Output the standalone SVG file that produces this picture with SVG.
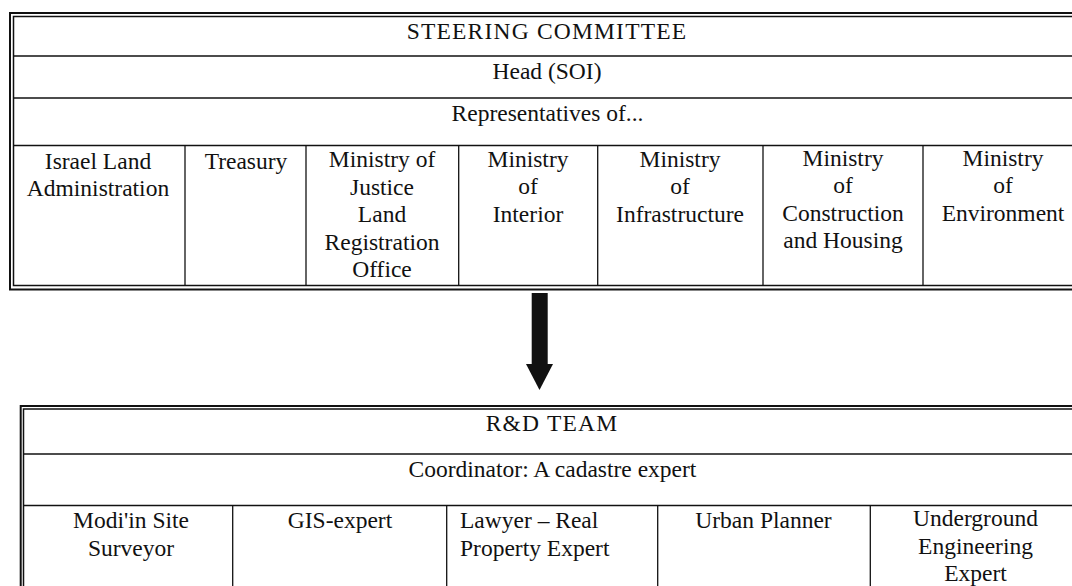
<svg xmlns="http://www.w3.org/2000/svg" width="1072" height="586" viewBox="0 0 1072 586">
<style>
text{font-family:"Liberation Serif","Times New Roman",serif;font-size:23.5px;fill:#111;text-anchor:middle}
.l{text-anchor:start}
.caps{letter-spacing:1.2px}
.outer{fill:none;stroke:#111;stroke-width:2}
.inner{fill:none;stroke:#111;stroke-width:1.5}
.grid{stroke:#111;stroke-width:1.3;fill:none}
</style>
<rect width="1072" height="586" fill="#fff"/>
<g id="steering-frame">
<rect class="outer" x="10" y="13" width="1078" height="276.5"/>
<rect class="inner" x="13.5" y="16.5" width="1071" height="269"/>
<line class="grid" x1="13.5" y1="56" x2="1085" y2="56"/>
<line class="grid" x1="13.5" y1="98" x2="1085" y2="98"/>
<line class="grid" x1="13.5" y1="145.5" x2="1085" y2="145.5"/>
<line class="grid" x1="185" y1="145.5" x2="185" y2="285.5"/>
<line class="grid" x1="306" y1="145.5" x2="306" y2="285.5"/>
<line class="grid" x1="458.7" y1="145.5" x2="458.7" y2="285.5"/>
<line class="grid" x1="597.7" y1="145.5" x2="597.7" y2="285.5"/>
<line class="grid" x1="763" y1="145.5" x2="763" y2="285.5"/>
<line class="grid" x1="923" y1="145.5" x2="923" y2="285.5"/>
</g>
<g id="steering-title"><text class="caps" x="547" y="38.5">STEERING COMMITTEE</text></g>
<g id="head-soi"><text x="547" y="79">Head (SOI)</text></g>
<g id="representatives"><text x="547.5" y="121">Representatives of...</text></g>
<g id="israel-land"><text x="98" y="168.5">Israel Land</text><text x="98" y="196">Administration</text></g>
<g id="treasury"><text x="246" y="168.5">Treasury</text></g>
<g id="justice"><text x="382" y="167">Ministry of</text><text x="382" y="194.5">Justice</text><text x="382" y="222">Land</text><text x="382" y="249.5">Registration</text><text x="382" y="277">Office</text></g>
<g id="interior"><text x="528" y="167">Ministry</text><text x="528" y="194">of</text><text x="528" y="221.5">Interior</text></g>
<g id="infrastructure"><text x="680" y="167">Ministry</text><text x="680" y="194">of</text><text x="680" y="221.5">Infrastructure</text></g>
<g id="construction"><text x="843" y="166">Ministry</text><text x="843" y="193">of</text><text x="843" y="220.5">Construction</text><text x="843" y="248">and Housing</text></g>
<g id="environment"><text x="1003" y="166">Ministry</text><text x="1003" y="193">of</text><text x="1003" y="220.5">Environment</text></g>
<g id="connectors">
<rect x="531.7" y="293" width="16" height="72" fill="#111"/>
<polygon points="526,364 553,364 539.5,390" fill="#111"/>
</g>
<g id="rd-frame">
<rect class="outer" x="20.7" y="406" width="1070" height="200"/>
<rect class="inner" x="23.5" y="409" width="1064" height="200"/>
<line class="grid" x1="23.5" y1="454" x2="1085" y2="454"/>
<line class="grid" x1="23.5" y1="505.5" x2="1085" y2="505.5"/>
<line class="grid" x1="232.7" y1="505.5" x2="232.7" y2="590"/>
<line class="grid" x1="446.7" y1="505.5" x2="446.7" y2="590"/>
<line class="grid" x1="657.7" y1="505.5" x2="657.7" y2="590"/>
<line class="grid" x1="870.3" y1="505.5" x2="870.3" y2="590"/>
</g>
<g id="rd-title"><text class="caps" x="552" y="431">R&amp;D TEAM</text></g>
<g id="coordinator"><text x="552.5" y="477">Coordinator: A cadastre expert</text></g>
<g id="surveyor"><text x="131" y="528">Modi'in Site</text><text x="131" y="555.5">Surveyor</text></g>
<g id="gis"><text x="340" y="528">GIS-expert</text></g>
<g id="lawyer"><text class="l" x="460" y="528">Lawyer – Real</text><text class="l" x="460" y="555.5">Property Expert</text></g>
<g id="urban"><text x="763.5" y="528">Urban Planner</text></g>
<g id="underground"><text x="975.5" y="526">Underground</text><text x="975.5" y="553.5">Engineering</text><text x="975.5" y="580.5">Expert</text></g>
</svg>
